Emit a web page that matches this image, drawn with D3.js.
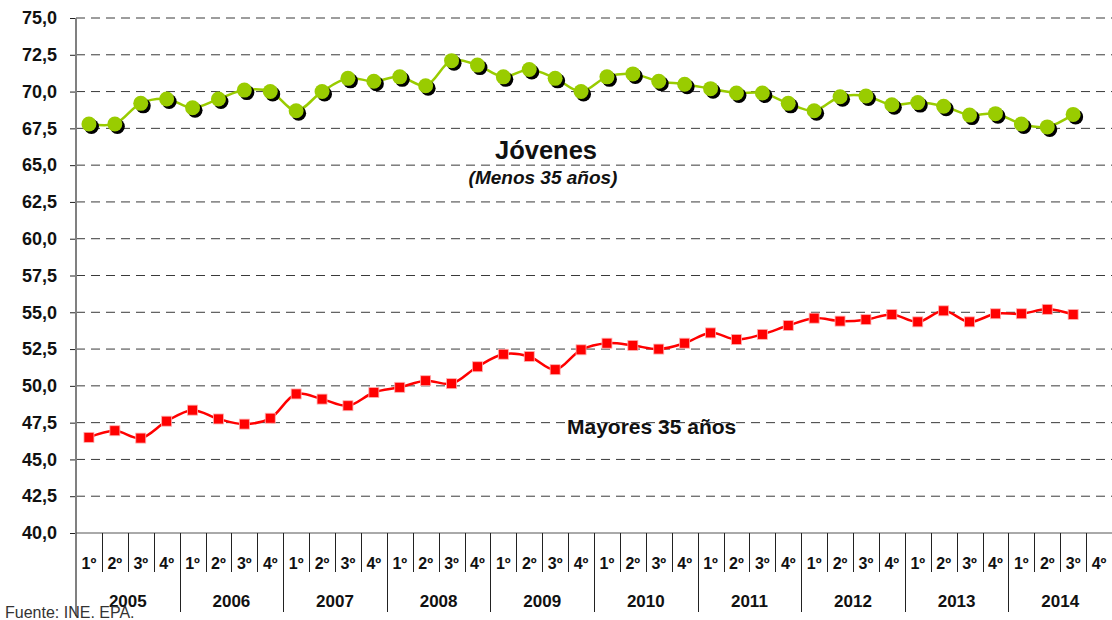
<!DOCTYPE html>
<html>
<head>
<meta charset="utf-8">
<script src="https://cdn.jsdelivr.net/npm/d3@7"></script>
<style>
  body { margin: 0; background: #fff; }
  svg { display: block; font-family: "Liberation Sans", Arial, sans-serif; }
</style>
</head>
<body>
<div id="chart"></div>
<script>
// data
const years = ["2005", "2006", "2007", "2008", "2009", "2010", "2011", "2012", "2013", "2014"]
const quarters = ["1º", "2º", "3º", "4º"]
const jovenes = [
    67.8, 67.8, 69.2, 69.5,
    68.9, 69.5, 70.1, 70.0,
    68.7, 70.0, 70.9, 70.7,
    71.0, 70.4, 72.1, 71.8,
    71.0, 71.5, 70.9, 70.0,
    71.0, 71.2, 70.7, 70.5,
    70.2, 69.9, 69.9, 69.2,
    68.7, 69.65, 69.7, 69.1,
    69.25, 69.0, 68.4, 68.5,
    67.8, 67.6, 68.45
]
const mayores = [
    46.5, 46.95, 46.45, 47.6,
    48.35, 47.75, 47.4, 47.8,
    49.45, 49.1, 48.65, 49.55,
    49.9, 50.35, 50.15, 51.3,
    52.15, 52.0, 51.1, 52.45,
    52.9, 52.75, 52.5, 52.9,
    53.6, 53.15, 53.5, 54.1,
    54.6, 54.4, 54.5, 54.85,
    54.35, 55.1, 54.35, 54.9,
    54.9, 55.2, 54.85
]
const yTicks = [40, 42.5, 45, 47.5, 50, 52.5, 55, 57.5, 60, 62.5, 65, 67.5, 70, 72.5, 75]

const categories = []
years.forEach(y => quarters.forEach(q => categories.push({ id: y + "-" + q, year: y, q: q })))

const dimensions = {
    width: 1112,
    height: 620,
    left: 76,
    right: 1112,
    top: 18,
    bottom: 533,
}

const svg = d3.select("#chart")
    .append("svg")
    .attr("width", dimensions.width)
    .attr("height", dimensions.height)

const xScale = d3.scaleBand()
    .domain(categories.map(d => d.id))
    .range([dimensions.left, dimensions.right])

const yScale = d3.scaleLinear()
    .domain([40, 75])
    .range([dimensions.bottom, dimensions.top])

const fmt = v => d3.format(".1f")(v).replace(".", ",")

// grid lines
svg.append("g")
    .selectAll("line")
    .data(yTicks.filter(d => d > 40))
    .join("line")
    .attr("x1", dimensions.left)
    .attr("x2", dimensions.width)
    .attr("y1", d => yScale(d))
    .attr("y2", d => yScale(d))
    .attr("stroke", "#3a3a3a")
    .attr("stroke-width", 1)
    .attr("stroke-dasharray", "9,6")

// y axis
const yAxis = svg.append("g")
    .attr("transform", `translate(${dimensions.left},0)`)
    .call(d3.axisLeft(yScale).tickValues(yTicks).tickSize(6).tickPadding(13).tickFormat(fmt))
yAxis.select(".domain").remove()
yAxis.selectAll(".tick line").attr("stroke", "#222")
yAxis.selectAll(".tick text")
    .attr("fill", "#111")
    .style("font-size", "18px")
    .style("font-weight", "bold")
svg.append("line")
    .attr("x1", dimensions.left).attr("x2", dimensions.left)
    .attr("y1", dimensions.top).attr("y2", 616)
    .attr("stroke", "#808080")
    .attr("stroke-width", 2)

// x axis
svg.append("line")
    .attr("x1", dimensions.left).attr("x2", dimensions.width)
    .attr("y1", dimensions.bottom).attr("y2", dimensions.bottom)
    .attr("stroke", "#555")
    .attr("stroke-width", 1)

const xAxis = svg.append("g")
svg.append("g")
    .selectAll("line")
    .data(categories.filter(d => d.q !== "1º"))
    .join("line")
    .attr("x1", d => Math.round(xScale(d.id)) + 0.5)
    .attr("x2", d => Math.round(xScale(d.id)) + 0.5)
    .attr("y1", dimensions.bottom)
    .attr("y2", 572)
    .attr("stroke", "#222")
svg.append("g")
    .selectAll("line")
    .data(categories.filter(d => d.q === "1º" && d.year !== "2005"))
    .join("line")
    .attr("x1", d => Math.round(xScale(d.id)) + 0.5)
    .attr("x2", d => Math.round(xScale(d.id)) + 0.5)
    .attr("y1", dimensions.bottom)
    .attr("y2", 612)
    .attr("stroke", "#222")

xAxis.selectAll("text.q")
    .data(categories)
    .join("text")
    .attr("class", "q")
    .attr("x", d => xScale(d.id) + xScale.bandwidth() / 2)
    .attr("y", 569)
    .attr("text-anchor", "middle")
    .style("font-size", "16px")
    .style("font-weight", "bold")
    .attr("fill", "#111")
    .text(d => d.q)

xAxis.selectAll("text.y")
    .data(years)
    .join("text")
    .attr("class", "y")
    .attr("x", d => xScale(d + "-1º") + xScale.bandwidth() * 2)
    .attr("y", 607)
    .attr("text-anchor", "middle")
    .style("font-size", "17px")
    .style("font-weight", "bold")
    .attr("fill", "#111")
    .text(d => d)

// lines
const lineGen = d3.line()
    .x((d, i) => xScale(categories[i].id) + xScale.bandwidth() / 2)
    .y(d => yScale(d))
    .curve(d3.curveCatmullRom.alpha(0.5))

svg.append("path")
    .datum(mayores)
    .attr("d", lineGen)
    .attr("fill", "none")
    .attr("stroke", "#ff0000")
    .attr("stroke-width", 2.5)

svg.append("g")
    .selectAll("rect")
    .data(mayores)
    .join("rect")
    .attr("x", (d, i) => xScale(categories[i].id) + xScale.bandwidth() / 2 - 5)
    .attr("y", d => yScale(d) - 5)
    .attr("width", 10)
    .attr("height", 10)
    .attr("fill", "#ff0000")
    .attr("stroke", "#ffb0b0")
    .attr("stroke-width", 0.8)

svg.append("path")
    .datum(jovenes)
    .attr("d", lineGen)
    .attr("fill", "none")
    .attr("stroke", "#99cc00")
    .attr("stroke-width", 2.5)

const dots = svg.append("g")
dots.selectAll("circle.shadow")
    .data(jovenes)
    .join("circle")
    .attr("class", "shadow")
    .attr("cx", (d, i) => xScale(categories[i].id) + xScale.bandwidth() / 2 + 2.5)
    .attr("cy", d => yScale(d) + 2.5)
    .attr("r", 7.5)
    .attr("fill", "#000")
dots.selectAll("circle.dot")
    .data(jovenes)
    .join("circle")
    .attr("class", "dot")
    .attr("cx", (d, i) => xScale(categories[i].id) + xScale.bandwidth() / 2)
    .attr("cy", d => yScale(d))
    .attr("r", 7.5)
    .attr("fill", "#99cc00")

// annotations
svg.append("text")
    .attr("x", 546)
    .attr("y", 159)
    .attr("text-anchor", "middle")
    .style("font-size", "25.5px")
    .style("font-weight", "bold")
    .attr("fill", "#111")
    .text("Jóvenes")

svg.append("text")
    .attr("x", 543)
    .attr("y", 184)
    .attr("text-anchor", "middle")
    .style("font-size", "19px")
    .style("font-weight", "bold")
    .style("font-style", "italic")
    .attr("fill", "#111")
    .text("(Menos 35 años)")

svg.append("text")
    .attr("x", 567)
    .attr("y", 434)
    .style("font-size", "21px")
    .style("font-weight", "bold")
    .attr("fill", "#111")
    .text("Mayores 35 años")

svg.append("text")
    .attr("x", 5)
    .attr("y", 618)
    .style("font-size", "16px")
    .attr("fill", "#333")
    .text("Fuente: INE. EPA.")
</script>
</body>
</html>
